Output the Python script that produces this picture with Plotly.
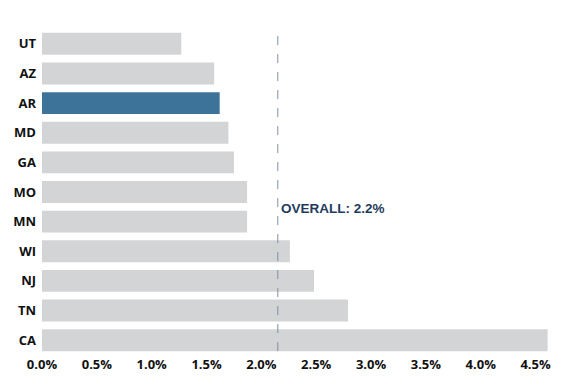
import plotly.graph_objects as go

states = ["UT", "AZ", "AR", "MD", "GA", "MO", "MN", "WI", "NJ", "TN", "CA"]
rates = [1.27, 1.57, 1.62, 1.70, 1.75, 1.87, 1.87, 2.26, 2.48, 2.79, 4.61]
highlight = "AR"
overall = 2.15
overall_label = "OVERALL: 2.2%"
x_ticks = [0, 0.5, 1.0, 1.5, 2.0, 2.5, 3.0, 3.5, 4.0, 4.5]

colors = ["#3d7399" if s == highlight else "#d3d4d6" for s in states]

fig = go.Figure(go.Bar(
    x=rates, y=states, orientation="h",
    marker=dict(color=colors, line=dict(width=0)),
    hoverinfo="skip",
))

fig.add_shape(type="line", xref="x", yref="paper", x0=overall, x1=overall,
              y0=0.012, y1=0.988,
              line=dict(color="#7f8fa3", width=1, dash="dash"))
fig.add_annotation(x=overall, y=0.45, xref="x", yref="paper", text=overall_label,
                   showarrow=False, xanchor="left", yanchor="middle", xshift=1,
                   font=dict(family="Liberation Sans, Arial", size=13.5, weight="bold",
                             color="#1f3b5e"))

fig.update_layout(
    width=569, height=379,
    margin=dict(l=34, r=25, t=21, b=32, autoexpand=False),
    paper_bgcolor="white", plot_bgcolor="white",
    bargap=0.26,
    showlegend=False,
    font=dict(family="Open Sans, DejaVu Sans", size=13, color="#111111"),
)
fig.update_xaxes(range=[0, 4.65], tickvals=x_ticks,
                 ticktext=[f"<b>{v:.1f}%</b>" for v in x_ticks],
                 showgrid=False, zeroline=False, showline=False, ticks="",
                 automargin=False,
                 tickfont=dict(size=13, color="#111111"))
fig.update_yaxes(categoryorder="array", categoryarray=states, autorange="reversed",
                 tickvals=states, ticktext=[f"<b>{s}</b>" for s in states],
                 showgrid=False, zeroline=False, showline=False, ticks="",
                 ticklabelstandoff=5, automargin=False,
                 tickfont=dict(size=13, color="#111111"))

fig.write_html("out.html")
